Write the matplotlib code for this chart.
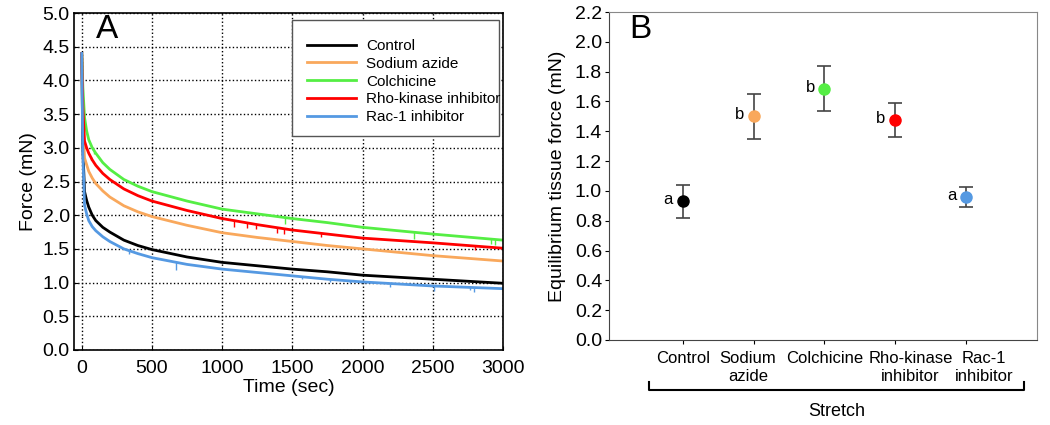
import numpy as np
import matplotlib
matplotlib.use("Agg")
import matplotlib.pyplot as plt
from matplotlib.patches import Rectangle

plt.rcParams['font.family'] = ['Liberation Sans', 'DejaVu Sans']

# panel A: force relaxation curves
t = [0, 8, 20, 35, 50, 75, 100, 150, 200, 300, 400, 500, 750, 1000, 1250, 1500, 1750, 2000, 2500, 3000]
control = [4.4, 3.0, 2.35, 2.22, 2.12, 2.0, 1.92, 1.82, 1.75, 1.63, 1.55, 1.49, 1.38, 1.30, 1.25, 1.20, 1.16, 1.11, 1.05, 0.99]
sodium = [4.4, 3.4, 2.85, 2.75, 2.65, 2.55, 2.47, 2.36, 2.27, 2.14, 2.05, 1.98, 1.85, 1.74, 1.67, 1.61, 1.55, 1.50, 1.40, 1.32]
colch = [4.4, 3.9, 3.45, 3.25, 3.12, 3.0, 2.92, 2.78, 2.68, 2.53, 2.43, 2.35, 2.21, 2.09, 2.02, 1.95, 1.89, 1.82, 1.72, 1.63]
rho = [4.4, 3.6, 3.1, 3.0, 2.92, 2.82, 2.74, 2.62, 2.53, 2.39, 2.29, 2.21, 2.07, 1.95, 1.86, 1.78, 1.72, 1.66, 1.59, 1.51]
rac = [4.4, 2.9, 2.15, 2.02, 1.92, 1.83, 1.77, 1.68, 1.61, 1.50, 1.43, 1.37, 1.27, 1.20, 1.15, 1.10, 1.05, 1.01, 0.95, 0.91]

# recording glitches (time, dip depth)
spikes_colch = [(88, 0.05), (1448, 0.10), (2364, 0.10), (2912, 0.08), (2940, 0.08)]
spikes_rho = [(64, 0.05), (1083, 0.09), (1174, 0.07), (1238, 0.07), (1393, 0.08), (1440, 0.08), (1702, 0.05), (2802, 0.06)]
spikes_rac = [(340, 0.05), (671, 0.12), (1567, 0.04), (1769, 0.04), (1912, 0.03), (2198, 0.05), (2507, 0.07), (2762, 0.04), (2793, 0.07)]

series_names = ['Control', 'Sodium azide', 'Colchicine', 'Rho-kinase inhibitor', 'Rac-1 inhibitor']
colors = ['#000000', '#F9A85C', '#55EE44', '#FF0000', '#5599E2']

# panel B: equilibrium force
groups = ['Control', 'Sodium\nazide', 'Colchicine', 'Rho-kinase\ninhibitor', 'Rac-1\ninhibitor']
eq_force = [0.93, 1.50, 1.685, 1.475, 0.96]
eq_err = [0.11, 0.15, 0.15, 0.115, 0.065]
letters = ['a', 'b', 'b', 'b', 'a']
label_shift = [0, -4, 0, 11, 13]  # points, label offsets seen in the figure

fig = plt.figure(figsize=(10.5, 4.25), dpi=100)

axA = fig.add_axes([74/1050, 1 - 350/425, (503-74)/1050, (350-13)/425])
for y, c, n in zip([control, sodium, colch, rho, rac], colors, series_names):
    axA.plot(t, y, color=c, lw=2, label=n)
for sp, y, c in [(spikes_colch, colch, colors[2]), (spikes_rho, rho, colors[3]), (spikes_rac, rac, colors[4])]:
    for ts, d in sp:
        top = np.interp(ts, t, y)
        axA.vlines(ts, top - d, top, color=c, lw=1)
axA.set_xlim(-55, 3000)
axA.set_ylim(0, 5)
axA.set_xticks(np.arange(0, 3001, 500))
axA.set_yticks(np.arange(0, 5.01, 0.5))
axA.set_yticklabels([f'{v:.1f}' for v in np.arange(0, 5.01, 0.5)])
axA.grid(True, color='black', linestyle=':', lw=1)
axA.tick_params(direction='in', length=3, labelsize=14, pad=3)
axA.tick_params(axis='x', pad=7)
axA.set_xlabel('Time (sec)', fontsize=14, labelpad=2)
axA.set_ylabel('Force (mN)', fontsize=14, labelpad=4)
for s in axA.spines.values():
    s.set_linewidth(1.2)
leg = fig.legend(*axA.get_legend_handles_labels(), loc='upper left',
                 bbox_to_anchor=(307/1050, 1 - 39/425), bbox_transform=fig.transFigure,
                 fontsize=11, frameon=False, handlelength=3.2, borderpad=0,
                 labelspacing=0.25, handletextpad=0.65, borderaxespad=0)
fig.add_artist(Rectangle((292/1050, 1 - 136/425), (499-292)/1050, (136-20)/425,
                         transform=fig.transFigure, fill=True, facecolor='white',
                         edgecolor='#555555', lw=1, zorder=2))
leg.set_zorder(3)
axA.text(0.077, 0.95, 'A', transform=axA.transAxes, fontsize=24, ha='center', va='center')

axB = fig.add_axes([609/1050, 1 - 340/425, (1037-609)/1050, (340-12)/425])
xpos = np.arange(len(groups))
for i in range(len(groups)):
    axB.errorbar(xpos[i], eq_force[i], yerr=eq_err[i], fmt='o', color=colors[i],
                 ecolor='#444444', elinewidth=1.2, capsize=5, capthick=1.2, markersize=8, zorder=3)
    axB.annotate(letters[i], (xpos[i], eq_force[i]), xytext=(-7, 1), textcoords='offset points',
                 ha='right', va='center', fontsize=12)
    axB.annotate(groups[i], (xpos[i], 0), xytext=(label_shift[i], -8), textcoords='offset points',
                 ha='center', va='top', fontsize=12, linespacing=1.2, annotation_clip=False)
axB.set_xlim(-1.04, 5.0)
axB.set_ylim(0, 2.2)
axB.set_yticks(np.arange(0, 2.21, 0.2))
axB.set_yticklabels([f'{v:.1f}' for v in np.arange(0, 2.21, 0.2)])
axB.set_xticks(xpos)
axB.set_xticklabels([])
axB.tick_params(axis='y', labelsize=14, length=3, pad=2)
axB.tick_params(axis='x', length=3)
axB.set_ylabel('Equilibrium tissue force (mN)', fontsize=14, labelpad=6)
for side in ['top', 'right']:
    axB.spines[side].set_color('#888888')
for side in ['left', 'bottom']:
    axB.spines[side].set_color('#444444')

# stretch bracket
x0, x1 = 649/1050, 1024/1050
yb, yt = 1 - 390/425, 1 - 382/425
fig.add_artist(plt.Line2D([x0, x0, x1, x1], [yt, yb, yb, yt], color='black', lw=1.5,
                          transform=fig.transFigure))
fig.text((x0 + x1) / 2, 1 - 412/425, 'Stretch', ha='center', va='center', fontsize=13)
fig.text(640/1050, 1 - 30/425, 'B', ha='center', va='center', fontsize=24)

fig.savefig('out.png', dpi=100)
